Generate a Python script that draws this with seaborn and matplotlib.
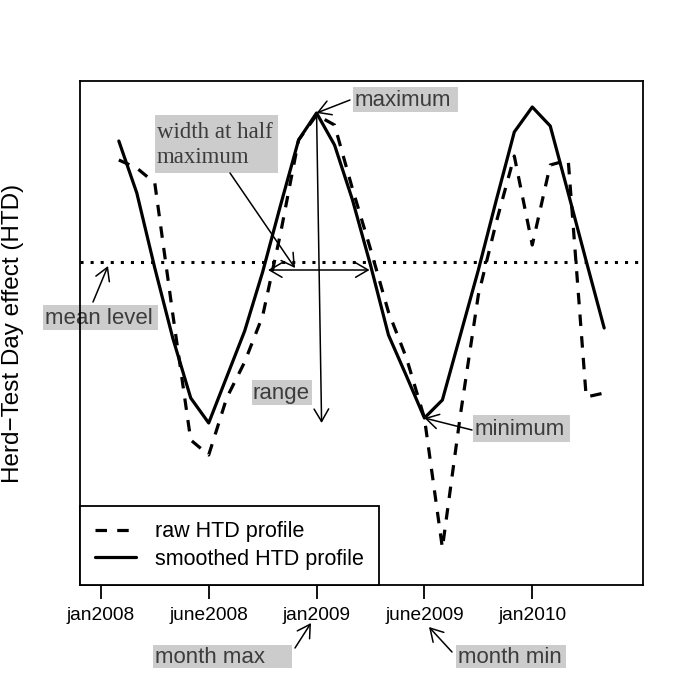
import matplotlib
matplotlib.use('Agg')
import matplotlib.pyplot as plt
import matplotlib.transforms as mtransforms
from matplotlib.patches import Rectangle
import pandas as pd
import seaborn as sns

# Herd-Test Day effect, month index from jan2008 = 0
months = list(range(1, 29))
raw_htd = [2.04, 1.88, 1.58, -1.04, -3.56, -3.86, -2.72, -2.00, -1.08, 0.58,
           2.44, 2.94, 2.74, 1.46, 0.26, -1.00, -1.92, -3.12, -5.72, -3.06,
           -0.66, 0.80, 2.12, 0.34, 1.94, 2.04, -2.70, -2.62]
smoothed_htd = [2.42, 1.38, -0.12, -1.52, -2.72, -3.22, -2.30, -1.38, -0.20, 1.14,
                2.44, 2.98, 2.34, 1.24, -0.06, -1.46, -2.28, -3.12, -2.76, -1.46,
                -0.16, 1.24, 2.60, 3.10, 2.72, 1.38, 0.02, -1.32]
tick_months = [0, 6, 12, 18, 24]
tick_labels = ['jan2008', 'june2008', 'jan2009', 'june2009', 'jan2010']
mean_level = 0.0
month_max = 12
month_min = 18
half_width_y = -0.16
half_width_x = (9.3, 14.95)

series = ['raw HTD profile', 'smoothed HTD profile']
df = pd.DataFrame({
    'month': months + months,
    'htd': raw_htd + smoothed_htd,
    'profile': [series[0]] * len(months) + [series[1]] * len(months),
})
smax = smoothed_htd[months.index(month_max)]
smin = smoothed_htd[months.index(month_min)]

sns.set_style('white')
plt.rcParams['font.family'] = ['Liberation Sans', 'DejaVu Sans']

W = 685
fig = plt.figure(figsize=(6.85, 6.85), dpi=100)
ax = fig.add_axes([80 / W, 1 - 585 / W, 563 / W, 504 / W])

sns.lineplot(data=df, x='month', y='htd', style='profile', style_order=series,
             dashes={series[0]: (3.6, 3.2), series[1]: ''},
             color='black', lw=2.3, errorbar=None, ax=ax)
ax.axhline(mean_level, color='black', lw=2.2, linestyle=(0, (1, 2.3)))

ax.set_xlim(-1.16, 30.16)
ax.set_ylim(-6.46, 3.62)
ax.set_xticks(tick_months, tick_labels)
ax.set_yticks([])
ax.tick_params(axis='x', bottom=True, length=10, width=1.3, direction='out',
               labelsize=13.8, pad=6, color='black', labelcolor='black')
ax.set_xlabel('')
ax.set_ylabel('Herd\u2212Test Day effect (HTD)', fontsize=17.5, color='black')
ax.yaxis.set_label_coords((24 - 80) / 563, 0.5)
for sp in ax.spines.values():
    sp.set_visible(True)
    sp.set_color('black')
    sp.set_linewidth(1.3)

sns.move_legend(ax, 'lower left', bbox_to_anchor=(0, 0), borderaxespad=0,
                title=None, frameon=True, fancybox=False, fontsize=15.5,
                handlelength=1.9, handletextpad=0.9, borderpad=0.7,
                labelspacing=0.3)
leg = ax.get_legend()
leg.get_frame().set_edgecolor('black')
leg.get_frame().set_linewidth(1.3)
leg.get_frame().set_alpha(1)
for line in leg.get_lines():
    line.set_linewidth(2.3)
    line.set_color('black')
for t in leg.get_texts():
    t.set_color('black')

# pixel coordinates (origin top-left) for annotation placement
pix = mtransforms.Affine2D().scale(1 / W, -1 / W).translate(0, 1) + fig.transFigure


def grey_label(x0, y0, x1, y1, text, tx, family=None, size=16):
    ax.add_patch(Rectangle((x0, y0), x1 - x0, y1 - y0, transform=pix,
                           facecolor='#cccccc', edgecolor='none',
                           clip_on=False, zorder=1))
    kw = {}
    if family:
        kw['family'] = family
    ax.text(tx, (y0 + y1) / 2 + 1, text, transform=pix, ha='left', va='center',
            fontsize=size, color='#3c3c3c', zorder=1.1, clip_on=False,
            linespacing=1.25, **kw)


def arrow(xy, xytext, xycoords='data', textcoords=None, style='->'):
    ax.annotate('', xy=xy, xycoords=xycoords, xytext=xytext,
                textcoords=textcoords or pix, annotation_clip=False,
                arrowprops=dict(arrowstyle=style + ',head_length=0.6,head_width=0.35',
                                lw=1.1, color='black', shrinkA=0, shrinkB=0,
                                mutation_scale=15))


grey_label(353, 87, 458, 112, 'maximum', 355)
arrow((month_max, smax), (350, 100))

grey_label(155, 115, 278, 173, 'width at half\nmaximum', 157,
           family='Liberation Serif', size=16.5)
arrow((295, 268), (230, 173), xycoords=pix)
arrow((half_width_x[1], half_width_y), (half_width_x[0], half_width_y),
      textcoords='data', style='<->')

grey_label(252, 380, 312, 405, 'range', 253)
arrow((month_max + 0.28, smoothed_htd[months.index(6)]), (month_max, smax),
      textcoords='data')

grey_label(43, 305, 158, 330, 'mean level', 45)
arrow((108, 266), (93, 302), xycoords=pix)

grey_label(473, 415, 570, 442, 'minimum', 475)
arrow((month_min, smin), (472, 430))

grey_label(153, 645, 292, 668, 'month max', 155)
arrow((311, 623), (295, 648), xycoords=pix)

grey_label(456, 645, 566, 668, 'month min', 458)
arrow((429, 627), (452, 652), xycoords=pix)

fig.savefig('out.png', dpi=100)
